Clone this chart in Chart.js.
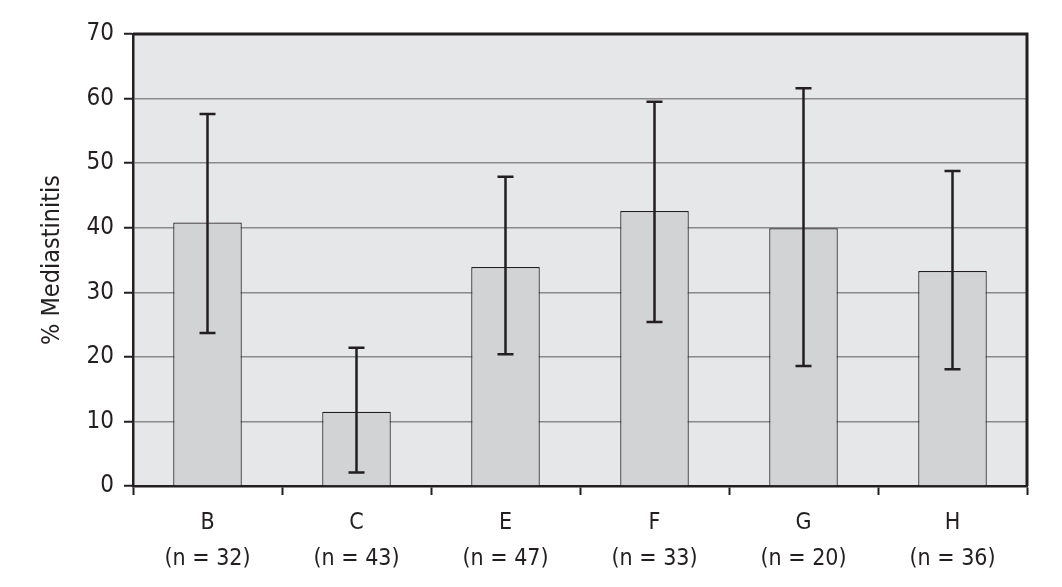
<!DOCTYPE html>
<html>
<head>
<meta charset="utf-8">
<script src="https://cdn.jsdelivr.net/npm/chart.js@4/dist/chart.umd.min.js"></script>
<style>
  html, body { margin: 0; padding: 0; background: #fff; }
  #wrap { width: 1062px; height: 587px; position: relative; }
</style>
</head>
<body>
<div id="wrap"><canvas id="chart"></canvas></div>
<script>
// data
const groups = ["B", "C", "E", "F", "G", "H"];
const counts = [32, 43, 47, 33, 20, 36];
const rates = [40.8, 11.5, 33.9, 42.6, 39.9, 33.3];
const errLow = [23.7, 2.1, 20.4, 25.4, 18.6, 18.1];
const errHigh = [57.6, 21.4, 47.9, 59.5, 61.6, 48.8];
const yTicks = [0, 10, 20, 30, 40, 50, 60, 70];

const ink = "#231f20";
const fontFamily = "'DejaVu Sans Condensed', 'Liberation Sans', Arial, sans-serif";

// grey plot background + dark frame on top and right
const frame = {
  id: "frame",
  beforeDraw(chart) {
    const { ctx, chartArea: a } = chart;
    ctx.save();
    ctx.fillStyle = "#e6e7e8";
    ctx.fillRect(a.left, a.top, a.right - a.left, a.bottom - a.top);
    ctx.restore();
  },
  afterDraw(chart) {
    const { ctx, chartArea: a } = chart;
    ctx.save();
    ctx.strokeStyle = ink;
    ctx.lineWidth = 3;
    ctx.beginPath();
    ctx.moveTo(a.left, a.top);
    ctx.lineTo(a.right, a.top);
    ctx.lineTo(a.right, a.bottom);
    ctx.stroke();
    ctx.restore();
  }
};

// error bars with caps
const errorBars = {
  id: "errorBars",
  afterDatasetsDraw(chart) {
    const { ctx } = chart;
    const y = chart.scales.y;
    const meta = chart.getDatasetMeta(0);
    ctx.save();
    ctx.strokeStyle = ink;
    ctx.lineWidth = 2.5;
    meta.data.forEach((bar, i) => {
      const x = bar.x;
      const yLo = y.getPixelForValue(errLow[i]);
      const yHi = y.getPixelForValue(errHigh[i]);
      ctx.beginPath();
      ctx.moveTo(x, yLo);
      ctx.lineTo(x, yHi);
      ctx.moveTo(x - 8, yHi);
      ctx.lineTo(x + 8, yHi);
      ctx.moveTo(x - 8, yLo);
      ctx.lineTo(x + 8, yLo);
      ctx.stroke();
    });
    ctx.restore();
  }
};

new Chart(document.getElementById("chart"), {
  type: "bar",
  data: {
    labels: groups.map((g, i) => [g, `(n = ${counts[i]})`]),
    datasets: [{
      data: rates,
      backgroundColor: "#d2d3d5",
      borderColor: ink,
      borderWidth: 1.2,
      barPercentage: 0.46,
      categoryPercentage: 1
    }]
  },
  options: {
    responsive: true,
    maintainAspectRatio: false,
    animation: false,
    layout: { padding: { left: 0, right: 35, top: 34, bottom: 0 } },
    plugins: { legend: { display: false }, tooltip: { enabled: false } },
    scales: {
      x: {
        grid: { offset: true, drawOnChartArea: false, tickColor: ink, tickLength: 9, tickWidth: 2 },
        border: { color: ink, width: 2.5 },
        ticks: {
          color: ink,
          padding: 10,
          maxRotation: 0,
          font: { family: fontFamily, size: 23, lineHeight: "36px" }
        },
        afterFit(axis) { axis.height = 101; }
      },
      y: {
        min: 0,
        max: 70,
        afterBuildTicks(axis) { axis.ticks = yTicks.map(v => ({ value: v })); },
        grid: { color: "#8a8a8a", lineWidth: 1.5, tickColor: ink, tickLength: 9, tickWidth: 2 },
        border: { color: ink, width: 2.5 },
        ticks: {
          color: ink,
          padding: 10,
          font: { family: fontFamily, size: 24 }
        },
        title: {
          display: true,
          text: "% Mediastinitis",
          color: ink,
          padding: { top: 37, bottom: 0 },
          font: { family: fontFamily, size: 25 }
        },
        afterFit(axis) { axis.width = 133; }
      }
    }
  },
  plugins: [frame, errorBars]
});
</script>
</body>
</html>
